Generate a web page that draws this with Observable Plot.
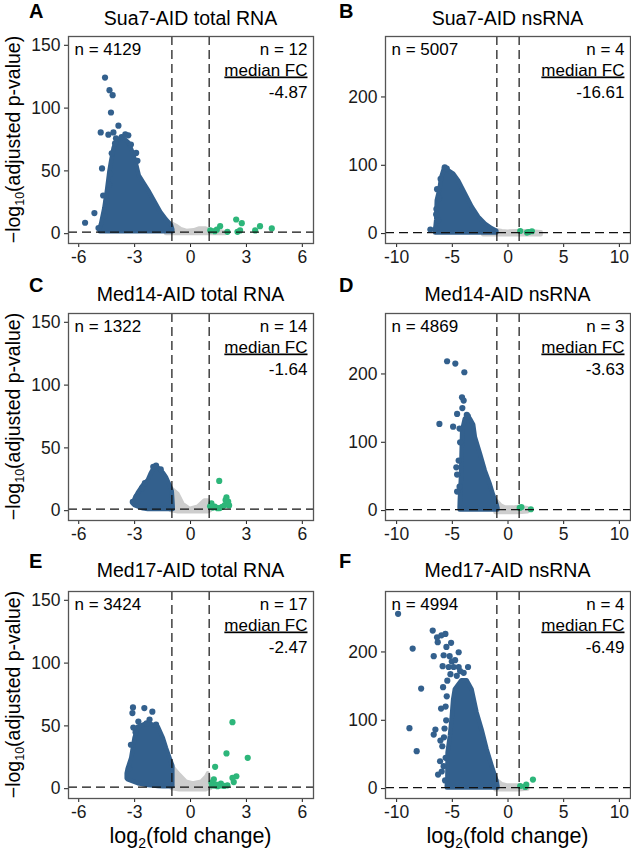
<!DOCTYPE html>
<html><head><meta charset="utf-8">
<script src="https://cdn.jsdelivr.net/npm/d3@7"></script>
<script src="https://cdn.jsdelivr.net/npm/@observablehq/plot@0.6"></script>
<style>
body{margin:0;background:#fff;}
#fig{position:relative;width:631px;height:854px;overflow:hidden;background:#fff;}
#fig > svg{position:absolute;}
</style></head><body><div id="fig"></div>
<script>
// ---- text content ----
const letters = ["A","B","C","D","E","F"];
const titles = ["Sua7-AID total RNA","Sua7-AID nsRNA","Med14-AID total RNA","Med14-AID nsRNA","Med17-AID total RNA","Med17-AID nsRNA"];
const nDown = [4129, 5007, 1322, 4869, 3424, 4994];
const nUp = [12, 4, 14, 3, 17, 4];
const medianFC = ["-4.87","-16.61","-1.64","-3.63","-2.47","-6.49"];
const xTicksTotal = [-6, -3, 0, 3, 6];
const xTicksNs = [-10, -5, 0, 5, 10];
const yTicksTotal = [0, 50, 100, 150];
const yTicksNs = [0, 100, 200];

// ---- blue (down) cloud outlines: [log2FC, lower, upper -log10 padj] ----
const blueEdgeA = [[-4.85,1.5,4],[-4.77,1.5,8],[-4.6,1.5,20],[-4.45,1.5,35],[-4.32,1.5,50],[-4.23,1.5,58],[-4.1,1.5,68],[-3.95,1.5,74],[-3.6,1.5,76],[-3.3,1.5,72],[-3.05,1.5,63],[-2.9,1.5,55],[-2.75,1.5,46],[-2.5,1.5,40],[-2.2,1.5,33],[-1.9,1.5,25],[-1.6,1.5,17],[-1.3,1.5,11],[-1.02,1.5,6.5],[-0.95,1.5,3]];
const blueEdgeB = [[-6.5,1,4],[-6.4,1,20],[-6.35,1,48],[-6.1,1,65],[-5.95,1,82],[-5.7,1,95],[-5.33,1,92],[-4.88,1,87],[-4.43,1,77],[-3.83,1,58],[-3.23,1,39],[-2.63,1,24],[-2.04,1,14],[-1.43,1,7],[-1.0,1,3.5]];
const blueEdgeC = [[-3.05,5,6],[-2.98,4,9],[-2.8,3,14],[-2.53,1.5,20],[-2.27,1,24],[-2.09,1,30],[-1.94,1,34],[-1.73,1,34],[-1.46,1,30],[-1.28,1,26],[-1.1,1,20],[-0.98,1,15],[-0.93,1,3]];
const blueEdgeD = [[-4.3,1,4],[-4.28,1,15],[-4.19,1,44],[-4.13,1,78],[-4.07,1,117],[-3.83,1,134],[-3.38,1,134],[-3.08,1,125],[-2.93,1,107],[-2.48,1,83],[-2.04,1,58],[-1.59,1,38],[-1.29,1,22],[-0.99,1,9],[-0.9,1,3]];
const blueEdgeE = [[-3.4,8,12],[-3.34,7,16],[-3.16,6,24],[-2.98,5,40],[-2.8,4,49],[-2.27,2.5,52],[-1.73,1.8,49],[-1.46,1.5,40],[-1.29,1.5,32],[-1.1,1.5,24],[-0.95,1.5,18]];
const blueEdgeF = [[-5.45,1,4],[-5.4,1,13],[-5.38,1,52],[-5.17,1,77],[-5.02,1,101],[-4.88,1,130],[-4.73,1,145],[-4.13,1,158],[-3.68,1,158],[-3.23,1,145],[-2.78,1,111],[-2.33,1,86],[-1.88,1,57],[-1.43,1,33],[-0.99,1,11],[-0.9,1,3]];

// ---- individual blue points outside the dense cloud ----
const blueDotsA = [[-4.59,124.3],[-4.35,114.3],[-4.18,110.3],[-4.27,96.5],[-3.87,86],[-4.82,80.6],[-4.14,80.6],[-3.34,78.3],[-4.41,78.8],[-4.75,52],[-4.69,30.4],[-5.16,16.4],[-5.66,8.7],[-4.94,4.5],[-2.92,64.3],[-4.23,64],[-4.32,47.6],[-4.37,39.1],[-4.05,72],[-3.7,77],[-3.2,71],[-2.85,58],[-4.5,26],[-4.62,14],[-3.5,79],[-4.0,76]];
const blueDotsB = [[-6.97,6],[-6.46,7],[-6.43,36],[-6.37,65],[-6.28,19.5],[-5.68,97],[-6.2,52],[-6.05,80],[-6.45,28],[-5.5,95]];
const blueDotsC = [[-3.1,7],[-2.0,35],[-1.85,36],[-2.6,18],[-2.45,22],[-1.6,33],[-2.9,11]];
const blueDotsD = [[-5.47,218.6],[-4.73,215.2],[-3.92,202.5],[-6.16,126.9],[-4.93,122.9],[-4.13,165.9],[-3.98,161],[-4.57,141.5],[-4.64,63.4],[-4.57,52.7],[-4.57,27.8],[-4.43,73.2],[-4.1,150],[-3.7,140],[-4.35,120],[-4.3,100],[-4.35,35],[-3.6,138]];
const blueDotsE = [[-3.09,64.7],[-3.12,60.2],[-2.48,64.2],[-2.05,61.3],[-2.8,53.5],[-3.07,48.7],[-3.3,16],[-2.36,52.1],[-2.2,55],[-1.85,51],[-3.2,35],[-2.95,45]];
const blueDotsF = [[-9.87,255.8],[-8.56,205],[-6.76,231.3],[-6.37,221.5],[-5.98,224.4],[-5.62,226.4],[-6.31,214.3],[-5.53,207.4],[-5.11,213.3],[-6.67,193.8],[-5.78,195.2],[-5.24,193.8],[-4.43,199.6],[-5.87,179.2],[-5.33,178],[-4.88,178],[-4.43,178],[-3.59,178],[-5.17,167.5],[-3.98,169.4],[-7.8,146.4],[-5.83,148.4],[-6.01,117.1],[-8.85,88.4],[-6.52,86.4],[-6.67,79.1],[-8.2,54.8],[-6.28,20.5],[-6.07,70.3],[-5.78,32.8],[-5.9,62],[-4.6,165],[-4.3,172],[-5.6,120],[-5.55,100],[-6.1,40],[-5.95,25],[-5.7,88],[-5.75,75],[-5.5,135],[-5.45,158],[-5.05,186],[-4.75,188],[-5.6,45],[-5.65,12]];

// ---- grey (not significant) band outlines ----
const greyEdgeA = [[-1.3,0,5],[-1.0,0,8],[-0.75,0,6],[-0.5,0,3.5],[-0.2,0,2],[0.2,0,2.5],[0.5,0,4],[0.8,0,4],[1.0,0,3],[1.4,0,2],[1.9,0,1]];
const greyEdgeB = [[-2.2,-2,2],[-1.0,-2,4.5],[-0.5,-2,3],[0,-2,2.5],[1,-2,3],[2,-2,3],[3,-2,1.5]];
const greyEdgeC = [[-1.05,0,18],[-0.66,-1,13],[-0.39,-1,5],[-0.03,-1,1.3],[0.41,-1,3],[0.77,-1,8],[0.95,-1,8],[1.1,0,3]];
const greyEdgeD = [[-1.1,-3,10],[-0.99,-3,14],[-0.6,-3,7],[-0.24,-3,4],[0.5,-3,4],[1.0,-3,5],[1.8,-2,3]];
const greyEdgeE = [[-1.0,0,18],[-0.57,-1,10.7],[-0.21,-1,5.3],[0.14,-1,4],[0.59,-1,5.3],[0.86,-1,9.4],[0.95,0,12],[1.1,0,4]];
const greyEdgeF = [[-1.1,-2,8],[-0.99,-2,12],[-0.5,-2,6],[0,-2,4],[1.0,-2,4],[1.8,-1,2]];

// ---- green (up) points ----
const greenA = [[2.45,11.3],[2.75,8.4],[2.66,2.6],[2.52,1.5],[1.59,6],[1.41,3.2],[1.98,1.5],[3.47,2.6],[3.73,6],[4.36,4.2],[1.06,2.6],[1.3,2]];
const greenB = [[1.1,3.8],[1.7,1.5],[2.15,3.4],[1.85,2.3]];
const greenC = [[1.54,23.7],[1.93,10.6],[2.02,7.2],[1.84,4.5],[1.57,2.1],[1.12,5.8],[1.3,3.2],[2.07,4.2],[1.7,3.0],[1.95,5.5],[1.2,2.5],[1.45,2.0],[1.05,3.5],[1.88,8.5]];
const greenD = [[1.2,5],[1.05,4],[2.05,2]];
const greenE = [[2.25,53],[1.93,28.1],[3.07,24.6],[1.32,17.4],[2.46,9.9],[2.25,8.6],[2.32,5.3],[1.25,7.5],[1.63,4],[1.98,2.7],[1.12,4.8],[1.3,2.5],[1.45,2],[1.15,2.6],[1.6,2.6],[1.8,2.2],[1.38,3.2]];
const greenF = [[2.24,13.2],[1.64,5.9],[1.55,2.4],[1.1,3.8]];

const blueEdges = [blueEdgeA, blueEdgeB, blueEdgeC, blueEdgeD, blueEdgeE, blueEdgeF];
const blueDots = [blueDotsA, blueDotsB, blueDotsC, blueDotsD, blueDotsE, blueDotsF];
const greyEdges = [greyEdgeA, greyEdgeB, greyEdgeC, greyEdgeD, greyEdgeE, greyEdgeF];
const greens = [greenA, greenB, greenC, greenD, greenE, greenF];
const fcCutoffs = [-1, 1];
const padjCutoff = [1.3];

// ---- styling / layout ----
const BLUE = "#33608D", GREEN = "#2DB67A", GREY = "#CDCDCD";
const FONT = "'Liberation Sans', Arial, Helvetica, sans-serif";
const rowBox = [{top:0,h:280,mt:36},{top:280,h:280,mt:33},{top:560,h:294,mt:31}];
const colBox = [{left:0,w:316,ml:68,mr:3},{left:316,w:315,ml:69,mr:1}];
const FRAME_H = 207;

const fig = document.getElementById("fig");

function makePanel(i){
  const col = i % 2, row = Math.floor(i / 2);
  const R = rowBox[row], C = colBox[col];
  const xy = {x: d => d[0], y: d => d[1]};
  const band = {x: d => d[0], y1: d => d[1], y2: d => d[2]};
  const txt = {text: d => d, fontSize: 17, fill: "#000", lineAnchor: "bottom"};
  const chart = Plot.plot({
    width: C.w, height: R.h,
    marginLeft: C.ml, marginRight: C.mr, marginTop: R.mt, marginBottom: R.h - R.mt - FRAME_H,
    style: {fontFamily: FONT, fontSize: "17.5px", color: "#1a1a1a", background: "transparent", overflow: "visible"},
    x: {domain: col === 0 ? [-6.55, 6.6] : [-11, 11], ticks: col === 0 ? xTicksTotal : xTicksNs,
        tickFormat: d => String(d), tickSize: 4, tickPadding: 3, label: null},
    y: {domain: col === 0 ? [-7.8, 157] : [-14.5, 288.5], ticks: col === 0 ? yTicksTotal : yTicksNs,
        tickFormat: d => String(d), tickSize: 4, tickPadding: 4, label: null},
    marks: [
      Plot.areaY(greyEdges[i], {...band, fill: GREY, stroke: GREY, strokeWidth: 4, strokeLinejoin: "round"}),
      Plot.areaY(blueEdges[i], {...band, fill: BLUE, stroke: BLUE, strokeWidth: 4.5, strokeLinejoin: "round"}),
      Plot.dot(blueDots[i], {...xy, r: 3.1, fill: BLUE}),
      Plot.dot(greens[i], {...xy, r: 3.1, fill: GREEN}),
      Plot.ruleX(fcCutoffs, {stroke: "#111", strokeWidth: 1.2, strokeDasharray: "9,5"}),
      Plot.ruleY(padjCutoff, {stroke: "#111", strokeWidth: 1.2, strokeDasharray: "9,5"}),
      Plot.frame({stroke: "#555", strokeWidth: 1.3}),
      Plot.text([`n = ${nDown[i]}`], {...txt, frameAnchor: "top-left", dx: 6, dy: 18, textAnchor: "start"}),
      Plot.text([`n = ${nUp[i]}`], {...txt, frameAnchor: "top-right", dx: -6, dy: 18, textAnchor: "end"}),
      Plot.text(["median FC"], {...txt, frameAnchor: "top-right", dx: -6, dy: 39, textAnchor: "end"}),
      Plot.text([medianFC[i]], {...txt, frameAnchor: "top-right", dx: -6, dy: 61, textAnchor: "end"})
    ]
  });
  chart.style.left = C.left + "px";
  chart.style.top = R.top + "px";
  chart.querySelectorAll("text").forEach(t => {
    if (t.textContent === "median FC") t.setAttribute("text-decoration", "underline");
  });
  fig.appendChild(chart);
}
for (let i = 0; i < 6; i++) makePanel(i);

// ---- overlay: panel letters, titles, axis titles ----
const ov = d3.select(fig).append("svg").attr("width", 631).attr("height", 854)
  .style("left", "0px").style("top", "0px").attr("font-family", FONT);
const colCenter = [190.5, 507.5];
const titleBase = [25, 301, 577];
const letterBase = [18, 292, 568];
const letterX = [29, 339];
const frameMid = [139.5, 416.5, 694.5];
for (let i = 0; i < 6; i++) {
  const col = i % 2, row = Math.floor(i / 2);
  ov.append("text").attr("x", letterX[col]).attr("y", letterBase[row])
    .attr("font-size", 20).attr("font-weight", "bold").attr("fill", "#000").text(letters[i]);
  ov.append("text").attr("x", colCenter[col]).attr("y", titleBase[row]).attr("text-anchor", "middle")
    .attr("font-size", 19.5).attr("fill", "#000").text(titles[i]);
}
for (let row = 0; row < 3; row++) {
  const t = ov.append("text").attr("transform", `translate(19.5,${frameMid[row]}) rotate(-90)`)
    .attr("text-anchor", "middle").attr("font-size", 19.5).attr("fill", "#000");
  t.append("tspan").text("\u2212log");
  t.append("tspan").attr("dy", 4).attr("font-size", 12.5).text("10");
  t.append("tspan").attr("dy", -4).text("(adjusted p-value)");
}
for (let col = 0; col < 2; col++) {
  const t = ov.append("text").attr("x", colCenter[col]).attr("y", 843).attr("text-anchor", "middle")
    .attr("font-size", 21.5).attr("fill", "#000");
  t.append("tspan").text("log");
  t.append("tspan").attr("dy", 5).attr("font-size", 14).text("2");
  t.append("tspan").attr("dy", -5).text("(fold change)");
}
</script></body></html>
